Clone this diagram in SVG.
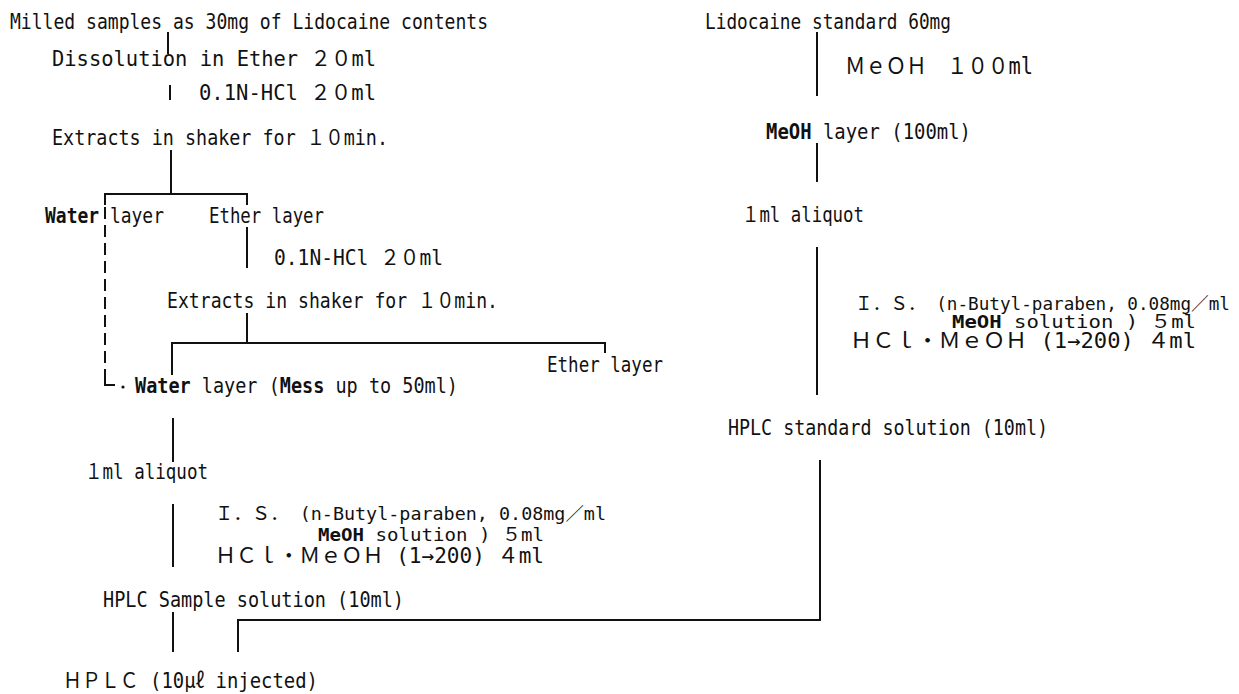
<svg xmlns="http://www.w3.org/2000/svg" width="1239" height="694" viewBox="0 0 1239 694">
<style>
.t{font-family:"DejaVu Sans Mono","Noto Sans CJK JP",monospace;font-size:21px;fill:#111;}
.s{font-size:18px;}
.b{font-weight:bold;}
.ln{stroke:#111;stroke-width:2;fill:none;}
.dash{stroke-dasharray:12 6;}
</style>
<rect width="1239" height="694" fill="#fff"/>
<g id="connectors">
<path class="ln" d="M168,32V54"/>
<path class="ln" d="M170,85V100"/>
<path class="ln" d="M171,150V194M105,205V194H247V205"/>
<path class="ln dash" d="M105,207V372"/>
<path class="ln" d="M105,372V385H115"/>
<circle cx="123" cy="387" r="1.6" fill="#111"/>
<path class="ln" d="M247,227V268"/>
<path class="ln" d="M247,313V343M172,375V343H605V353"/>
<path class="ln" d="M173,418V462"/>
<path class="ln" d="M173,504V567"/>
<path class="ln" d="M173,612V652"/>
<path class="ln" d="M238,652V620H820V460"/>
<path class="ln" d="M817,32V96"/>
<path class="ln" d="M817,143V182"/>
<path class="ln" d="M817,247V395"/>
</g>
<g id="n-milled"><text class="t" x="10" y="29" textLength="478" lengthAdjust="spacingAndGlyphs">Milled samples as 30mg of Lidocaine contents</text></g>
<g id="n-dissolution"><text class="t" x="52" y="66" textLength="324" lengthAdjust="spacingAndGlyphs">Dissolution in Ether ２０ml</text></g>
<g id="n-hcl1"><text class="t" x="199" y="100" textLength="177" lengthAdjust="spacingAndGlyphs">0.1N-HCl  ２０ml</text></g>
<g id="n-extract1"><text class="t" x="52" y="145" textLength="336" lengthAdjust="spacingAndGlyphs">Extracts in shaker for １０min.</text></g>
<g id="n-water1"><text class="t" x="45" y="223" textLength="119" lengthAdjust="spacingAndGlyphs"><tspan class="b">Water</tspan> layer</text></g>
<g id="n-ether1"><text class="t" x="209" y="223" textLength="115" lengthAdjust="spacingAndGlyphs">Ether layer</text></g>
<g id="n-hcl2"><text class="t" x="274" y="265" textLength="169" lengthAdjust="spacingAndGlyphs">0.1N-HCl  ２０ml</text></g>
<g id="n-extract2"><text class="t" x="167" y="308" textLength="331" lengthAdjust="spacingAndGlyphs">Extracts in shaker for １０min.</text></g>
<g id="n-ether2"><text class="t" x="547" y="372" textLength="116" lengthAdjust="spacingAndGlyphs">Ether layer</text></g>
<g id="n-water2"><text class="t" x="135" y="393" textLength="323" lengthAdjust="spacingAndGlyphs"><tspan class="b">Water</tspan> layer  (<tspan class="b">Mess</tspan> up to 50ml)</text></g>
<g id="n-aliquot1"><text class="t" x="85" y="479" textLength="123" lengthAdjust="spacingAndGlyphs">１ml aliquot</text></g>
<g id="n-is1">
<text class="t s" x="215" y="520" textLength="391" lengthAdjust="spacingAndGlyphs">Ｉ．Ｓ．  (n-Butyl-paraben, 0.08mg／ml</text>
<text class="t s" x="318" y="541" textLength="226" lengthAdjust="spacingAndGlyphs"><tspan class="b">MeOH</tspan> solution )  ５ml</text>
<text class="t" x="215" y="563" textLength="329" lengthAdjust="spacingAndGlyphs">ＨＣｌ・ＭｅＯＨ (1→200) ４ml</text>
</g>
<g id="n-sample"><text class="t" x="103" y="607" textLength="301" lengthAdjust="spacingAndGlyphs">HPLC Sample solution  (10ml)</text></g>
<g id="n-hplc"><text class="t" x="63" y="688" textLength="255" lengthAdjust="spacingAndGlyphs">ＨＰＬＣ (10μℓ injected)</text></g>
<g id="n-standard"><text class="t" x="705" y="29" textLength="246" lengthAdjust="spacingAndGlyphs">Lidocaine standard 60mg</text></g>
<g id="n-meoh100"><text class="t" x="845" y="74" style="font-size:23px" textLength="188" lengthAdjust="spacingAndGlyphs">ＭｅＯＨ　１００ml</text></g>
<g id="n-meohlayer"><text class="t" x="766" y="139" textLength="205" lengthAdjust="spacingAndGlyphs"><tspan class="b">MeOH</tspan> layer  (100ml)</text></g>
<g id="n-aliquot2"><text class="t" x="742" y="222" textLength="122" lengthAdjust="spacingAndGlyphs">１ml aliquot</text></g>
<g id="n-is2">
<text class="t s" x="855" y="310" textLength="375" lengthAdjust="spacingAndGlyphs">Ｉ．Ｓ．  (n-Butyl-paraben, 0.08mg／ml</text>
<text class="t s" x="952" y="328" textLength="244" lengthAdjust="spacingAndGlyphs"><tspan class="b">MeOH</tspan> solution )    ５ml</text>
<text class="t" x="850" y="348" textLength="346" lengthAdjust="spacingAndGlyphs">ＨＣｌ・ＭｅＯＨ (1→200)   ４ml</text>
</g>
<g id="n-stdsol"><text class="t" x="728" y="435" textLength="320" lengthAdjust="spacingAndGlyphs">HPLC standard solution  (10ml)</text></g>
</svg>
